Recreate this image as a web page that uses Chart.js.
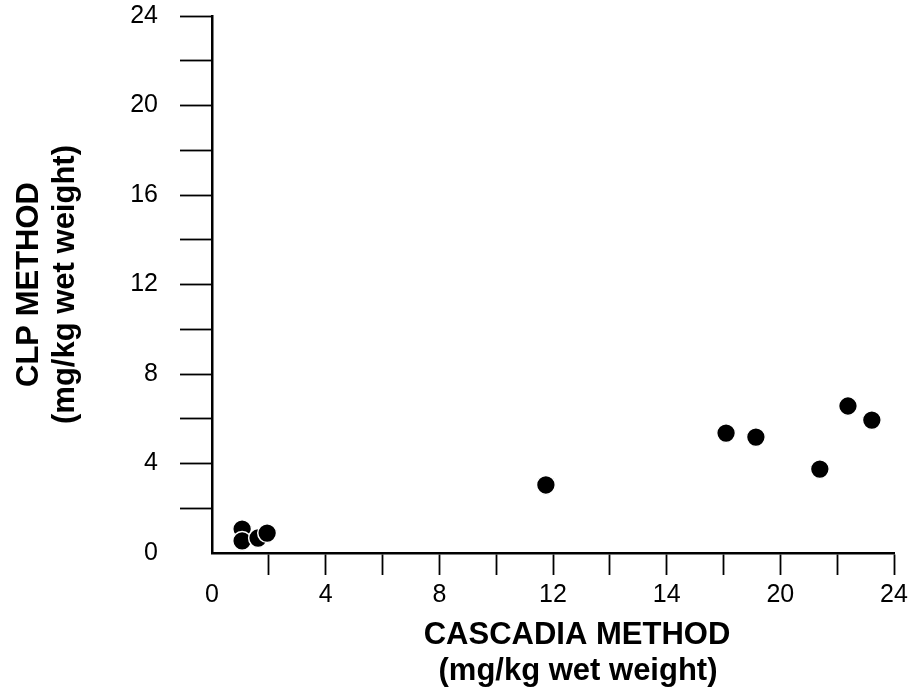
<!DOCTYPE html>
<html>
<head>
<meta charset="utf-8">
<script src="https://cdn.jsdelivr.net/npm/chart.js@4.4.1/dist/chart.umd.min.js"></script>
<style>
  html, body { margin: 0; padding: 0; background: #fff; }
  #wrap { width: 910px; height: 694px; }
</style>
</head>
<body>
<div id="wrap"><canvas id="scatter"></canvas></div>
<script>
// values
const cascadia = [1.06, 1.06, 1.62, 1.94, 11.75, 18.09, 19.14, 21.39, 22.38, 23.22];
const clp = [1.07, 0.54, 0.67, 0.89, 3.04, 5.36, 5.18, 3.75, 6.57, 5.94];

// tick labels (every other tick carries a label; the original prints "14" where 16 sits)
const xTickLabels = ['0', '4', '8', '12', '14', '20', '24'];
const yTickLabels = ['0', '4', '8', '12', '16', '20', '24'];

const xTitle = ['CASCADIA METHOD', '(mg/kg wet weight)'];
const yTitle = ['CLP METHOD', '(mg/kg wet weight)'];

const FONT = '"Liberation Sans", Arial, Helvetica, sans-serif';
Chart.defaults.font.family = FONT;
Chart.defaults.color = '#000';

// no tick mark at the origin, as in the scan
const tickColor = (c) => (c.tick && c.tick.value === 0 ? 'rgba(0,0,0,0)' : '#000');
const labelAt = (labels) => (v) => (v % 4 === 0 ? labels[v / 4] : '');

// x title sits a little right of centre in the original, so draw it ourselves
const xTitlePlugin = {
  id: 'xTitle',
  afterDraw(chart) {
    const { ctx, chartArea } = chart;
    ctx.save();
    ctx.fillStyle = '#000';
    ctx.font = 'bold 31px ' + FONT;
    ctx.textAlign = 'center';
    ctx.textBaseline = 'alphabetic';
    ctx.fillText(xTitle[0], 577, chartArea.bottom + 91);
    ctx.fillText(xTitle[1], 578, chartArea.bottom + 127);
    ctx.restore();
  }
};

new Chart(document.getElementById('scatter'), {
  type: 'scatter',
  data: {
    datasets: [{
      data: cascadia.map((x, i) => ({ x, y: clp[i] })),
      backgroundColor: '#000',
      borderColor: '#fff',
      borderWidth: 1.5,
      pointRadius: 9.4,
      pointHoverRadius: 9.4
    }]
  },
  options: {
    responsive: true,
    maintainAspectRatio: false,
    animation: false,
    layout: { padding: { top: 0, right: 0, left: 0, bottom: 0 } },
    plugins: {
      legend: { display: false },
      tooltip: { enabled: false }
    },
    scales: {
      x: {
        type: 'linear',
        min: 0,
        max: 24,
        afterFit: (s) => { s.height = 141; s.paddingRight = 16; },
        ticks: {
          stepSize: 2,
          autoSkip: false,
          maxRotation: 0,
          padding: 5,
          font: { size: 25 },
          callback: labelAt(xTickLabels)
        },
        grid: {
          drawOnChartArea: false,
          drawTicks: true,
          tickLength: 22,
          tickWidth: 1.8,
          tickColor: tickColor
        },
        border: { display: true, color: '#000', width: 2.5 }
      },
      y: {
        type: 'linear',
        min: 0,
        max: 24,
        afterFit: (s) => { s.width = 212; s.paddingTop = 16; s.paddingBottom = 0; },
        ticks: {
          stepSize: 2,
          autoSkip: false,
          padding: 22,
          font: { size: 25 },
          callback: labelAt(yTickLabels)
        },
        grid: {
          drawOnChartArea: false,
          drawTicks: true,
          tickLength: 32,
          tickWidth: 1.8,
          tickColor: tickColor
        },
        border: { display: true, color: '#000', width: 2.5 },
        title: {
          display: true,
          text: yTitle,
          font: { size: 31, weight: 'bold', lineHeight: 1.15 },
          padding: { top: 12, bottom: 0 }
        }
      }
    }
  },
  plugins: [xTitlePlugin]
});
</script>
</body>
</html>
